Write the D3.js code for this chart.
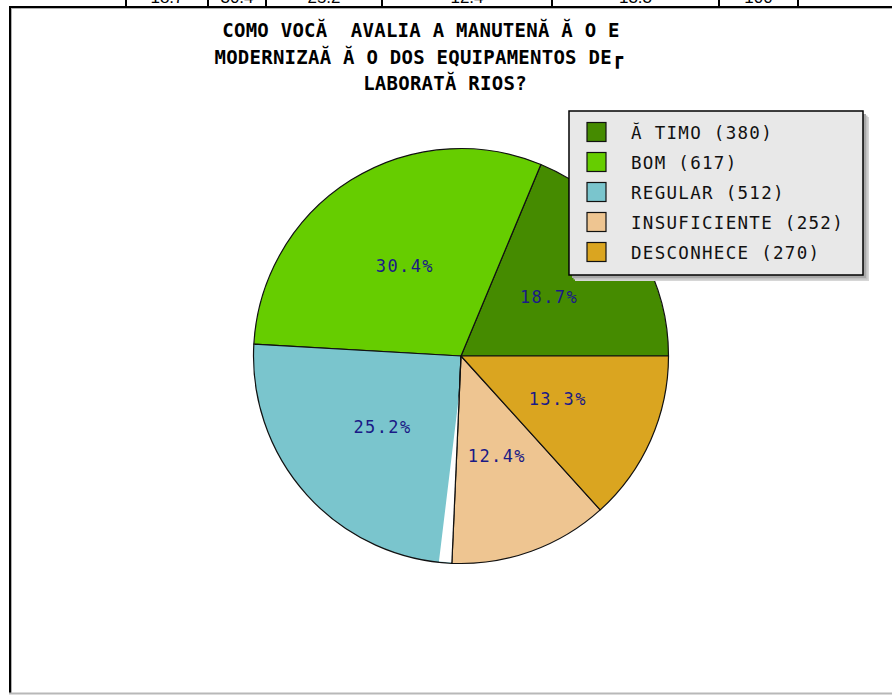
<!DOCTYPE html>
<html>
<head>
<meta charset="utf-8">
<script src="https://cdn.jsdelivr.net/npm/d3@7/dist/d3.min.js"></script>
<style>
  html, body { margin: 0; padding: 0; background: #fff; overflow: hidden; }
  svg { display: block; }
  text { white-space: pre; }
</style>
</head>
<body>
<svg id="chart" width="892" height="695"></svg>
<script>
// ---- data ----
const categories = ["Ă TIMO", "BOM", "REGULAR", "INSUFICIENTE", "DESCONHECE"];
const values = [380, 617, 512, 252, 270];
const colors = ["#458B00", "#66CD00", "#7AC5CD", "#EEC591", "#DAA520"];
const tableLabels = ["18.7", "30.4", "25.2", "12.4", "13.3", "100"];
const titleLines = [
  "COMO VOCĂ  AVALIA A MANUTENĂ Ă O E",
  "MODERNIZAĂ Ă O DOS EQUIPAMENTOS DE┏",
  "LABORATĂ RIOS?"
];

const svg = d3.select("#chart");
const W = 892, H = 695;

// ---- clipped table row at the very top ----
const colEdges = [126, 208, 266, 382, 552, 719, 798];
const tableX = d3.scaleOrdinal().domain(tableLabels).range(
  tableLabels.map((d, i) => (colEdges[i] + colEdges[i + 1]) / 2));
const tableG = svg.append("g");
tableG.selectAll("text").data(tableLabels).join("text")
  .attr("x", d => tableX(d)).attr("y", 3)
  .attr("text-anchor", "middle")
  .attr("font-family", "Liberation Sans, Arial, sans-serif")
  .attr("font-size", 17).attr("fill", "#000")
  .text(d => d);
tableG.selectAll("line.v").data(colEdges).join("line")
  .attr("class", "v")
  .attr("x1", d => d).attr("x2", d => d).attr("y1", 0).attr("y2", 7)
  .attr("stroke", "#000").attr("stroke-width", 2);

// ---- frame ----
svg.append("line").attr("x1", 9).attr("x2", W).attr("y1", 7).attr("y2", 7)
  .attr("stroke", "#000").attr("stroke-width", 2);
svg.append("line").attr("x1", 10).attr("x2", 10).attr("y1", 6).attr("y2", 694)
  .attr("stroke", "#000").attr("stroke-width", 2);
svg.append("line").attr("x1", 11).attr("x2", W).attr("y1", 8.5).attr("y2", 8.5)
  .attr("stroke", "#b0b0b0").attr("stroke-width", 1);
svg.append("line").attr("x1", 11.5).attr("x2", 11.5).attr("y1", 8).attr("y2", 693)
  .attr("stroke", "#b0b0b0").attr("stroke-width", 1);
svg.append("line").attr("x1", 9).attr("x2", W).attr("y1", 693.5).attr("y2", 693.5)
  .attr("stroke", "#b8b8b8").attr("stroke-width", 2);

// ---- title ----
const titleX = [421, 419, 445];
svg.append("g").selectAll("text").data(titleLines).join("text")
  .attr("x", (d, i) => titleX[i])
  .attr("y", (d, i) => 37 + i * 26.5)
  .attr("text-anchor", "middle")
  .attr("font-family", "DejaVu Sans Mono, monospace")
  .attr("font-weight", "bold")
  .attr("font-size", 19)
  .attr("letter-spacing", 0.25)
  .attr("fill", "#000")
  .text(d => d);

// ---- pie ----
const cx = 461, cy = 356, R = 207.5;
const pie = d3.pie().sort(null).value(d => d)
  .startAngle(Math.PI / 2).endAngle(Math.PI / 2 - 2 * Math.PI);
const arcs = pie(values);
const arc = d3.arc().innerRadius(0).outerRadius(R);
const labelArc = d3.arc().innerRadius(R * 0.51).outerRadius(R * 0.51);
const total = d3.sum(values);

const pieG = svg.append("g").attr("transform", `translate(${cx},${cy})`);
pieG.selectAll("path.slice").data(arcs).join("path")
  .attr("class", "slice")
  .attr("d", arc)
  .attr("fill", (d, i) => colors[i])
  .attr("stroke", "#111").attr("stroke-width", 1.2)
  .attr("stroke-linejoin", "round");

// small unfilled sliver seen at the REGULAR / INSUFICIENTE boundary in the original rendering
{
  const a = arcs[2].endAngle;            // boundary angle (d3 convention)
  const gap = 3.6 * Math.PI / 180;
  const pt = (ang, r) => [r * Math.sin(ang), -r * Math.cos(ang)];
  const p0 = pt(a, 36), p1 = pt(a + gap, R - 0.8), p2 = pt(a, R - 0.8);
  pieG.append("path")
    .attr("d", `M${p0}L${p1}A${R - 0.8},${R - 0.8} 0 0 1 ${p2}Z`)
    .attr("fill", "#fff");
  pieG.append("line")
    .attr("x1", 0).attr("y1", 0)
    .attr("x2", pt(a, R)[0]).attr("y2", pt(a, R)[1])
    .attr("stroke", "#111").attr("stroke-width", 1.2);
}

pieG.selectAll("text.pct").data(arcs).join("text")
  .attr("class", "pct")
  .attr("transform", d => `translate(${labelArc.centroid(d)})`)
  .attr("y", 6)
  .attr("text-anchor", "middle")
  .attr("font-family", "DejaVu Sans Mono, monospace")
  .attr("font-size", 17)
  .attr("letter-spacing", 1.4)
  .attr("fill", "#1a1a86")
  .text(d => (d.value / total * 100).toFixed(1) + "%");

// ---- legend ----
const lg = { x: 569, y: 111, w: 294, h: 164 };
const legendG = svg.append("g");
// shadow
[["#d6d6d6", 6], ["#c2c2c2", 4.5], ["#a8a8a8", 3]].forEach(([c, o]) => {
  legendG.append("rect")
    .attr("x", lg.x + o).attr("y", lg.y + o)
    .attr("width", lg.w).attr("height", lg.h)
    .attr("fill", c);
});
legendG.append("rect")
  .attr("x", lg.x).attr("y", lg.y).attr("width", lg.w).attr("height", lg.h)
  .attr("fill", "#e8e8e8").attr("stroke", "#000").attr("stroke-width", 1.5);

const legY = d3.scaleBand().domain(categories).range([lg.y + 6, lg.y + 6 + 30 * categories.length]);
const items = legendG.selectAll("g.item").data(categories).join("g")
  .attr("class", "item")
  .attr("transform", d => `translate(0,${legY(d) + legY.bandwidth() / 2})`);
items.append("rect")
  .attr("x", 587).attr("y", -9.5).attr("width", 19).attr("height", 19)
  .attr("fill", (d, i) => colors[i])
  .attr("stroke", "#111").attr("stroke-width", 1.2);
items.append("text")
  .attr("x", 631).attr("y", 6.5)
  .attr("font-family", "DejaVu Sans Mono, monospace")
  .attr("font-size", 17.5)
  .attr("letter-spacing", 1.3)
  .attr("fill", "#111")
  .text((d, i) => `${d} (${values[i]})`);
</script>
</body>
</html>
